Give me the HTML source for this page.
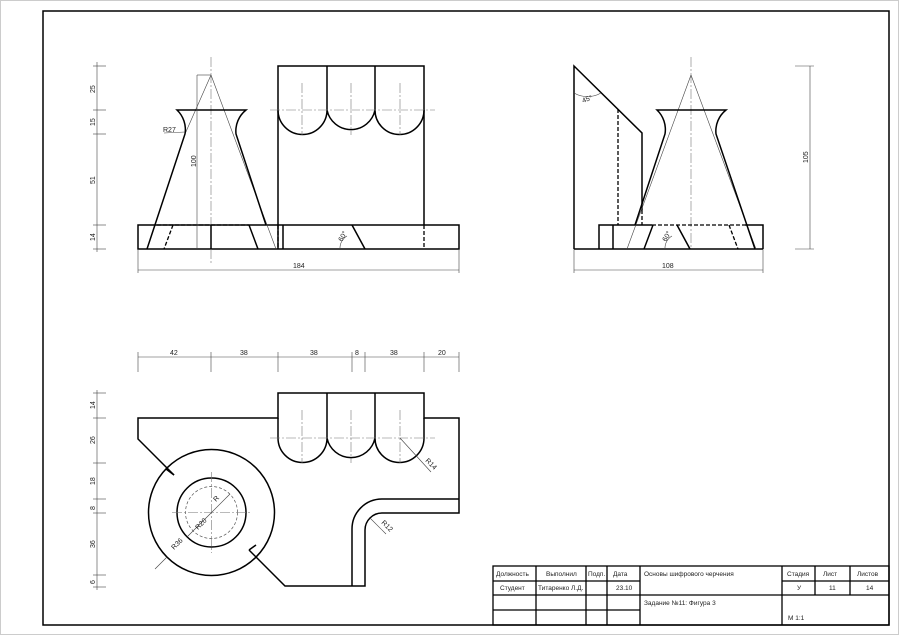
<!DOCTYPE html>
<html><head><meta charset="utf-8"><style>
html,body{margin:0;padding:0;background:#fff}
svg{display:block}
text{font-family:"Liberation Sans","DejaVu Sans",sans-serif;fill:#222}
.k{stroke:#000;stroke-width:1.5;fill:none}
.t{stroke:#444;stroke-width:0.6;fill:none}
.c{stroke:#777;stroke-width:0.6;fill:none;stroke-dasharray:10 2 2 2}
.d{stroke:#000;stroke-width:1.3;fill:none;stroke-dasharray:4 2}
.dt{stroke:#555;stroke-width:0.7;fill:none;stroke-dasharray:3 2}
</style></head><body>
<svg width="900" height="636" viewBox="0 0 900 636" xmlns="http://www.w3.org/2000/svg">
<rect x="0.5" y="0.5" width="898" height="634" fill="none" stroke="#ccc" stroke-width="1"/>
<rect x="43" y="11" width="846" height="614" fill="none" stroke="#000" stroke-width="1.5"/>

<!-- FRONT VIEW -->
<g>
<rect class="k" x="138" y="225" width="321" height="24"/>
<line class="c" x1="211" y1="57" x2="211" y2="265"/>
<line class="t" x1="211" y1="75" x2="185" y2="134"/>
<line class="t" x1="211" y1="75" x2="276" y2="249"/>
<path class="k" d="M147 249 L185 134 A27 27 0 0 0 177 110 L246 110 A27 27 0 0 0 236 134 L266 225"/>
<line class="k" x1="249" y1="225" x2="258" y2="249"/>
<line class="d" x1="157" y1="225" x2="249" y2="225"/>
<line class="d" x1="173" y1="225" x2="164" y2="249"/>
<line class="k" x1="211" y1="225" x2="211" y2="249"/>
<line class="t" x1="197" y1="75" x2="197" y2="249"/>
<line class="t" x1="197" y1="75" x2="211" y2="75"/>
<text x="0" y="0" font-size="7" transform="translate(196,167) rotate(-90)">100</text>
<line class="t" x1="164" y1="133" x2="185" y2="132"/>
<text x="163" y="132" font-size="7">R27</text>
<!-- box -->
<path class="k" d="M278 249 L278 66 L424 66 L424 225"/>
<line class="d" x1="278" y1="225" x2="278" y2="249"/>
<line class="d" x1="424" y1="225" x2="424" y2="249"/>
<line class="k" x1="283" y1="225" x2="283" y2="249"/>
<line class="k" x1="327" y1="66" x2="327" y2="110"/>
<line class="k" x1="375" y1="66" x2="375" y2="110"/>
<path class="k" d="M278 110 A24.5 24.5 0 0 0 327 110 A24.5 24.5 0 0 0 375 110 A24.5 24.5 0 0 0 424 110"/>
<line class="c" x1="270" y1="110" x2="435" y2="110"/>
<line class="c" x1="302" y1="83" x2="302" y2="135"/>
<line class="c" x1="351" y1="83" x2="351" y2="135"/>
<line class="c" x1="400" y1="83" x2="400" y2="135"/>
<line class="k" x1="352" y1="225" x2="365" y2="249"/>
<path class="t" d="M340 249 A14 14 0 0 1 347 236"/>
<text x="0" y="0" font-size="7" transform="translate(342,242) rotate(-60)">60°</text>
<!-- left dims -->
<line class="t" x1="97" y1="62" x2="97" y2="252"/>
<g class="t"><line x1="93" y1="66" x2="106" y2="66"/><line x1="93" y1="110" x2="106" y2="110"/><line x1="93" y1="134" x2="106" y2="134"/><line x1="93" y1="225" x2="106" y2="225"/><line x1="93" y1="249" x2="106" y2="249"/></g>
<g font-size="7"><text transform="translate(95,93) rotate(-90)">25</text><text transform="translate(95,126) rotate(-90)">15</text><text transform="translate(95,184) rotate(-90)">51</text><text transform="translate(95,241) rotate(-90)">14</text></g>
<line class="t" x1="138" y1="249" x2="138" y2="273"/><line class="t" x1="459" y1="249" x2="459" y2="273"/>
<line class="t" x1="138" y1="270" x2="459" y2="270"/>
<text x="293" y="268" font-size="7">184</text>
</g>

<!-- SIDE VIEW -->
<g>
<path class="k" d="M574 249 L574 66 L642 133 L642 210"/>
<line class="d" x1="642" y1="210" x2="642" y2="225"/>
<line class="d" x1="618" y1="109" x2="618" y2="225"/>
<line class="k" x1="574" y1="249" x2="763" y2="249"/>
<path class="k" d="M599 249 L599 225 L652 225"/>
<path class="k" d="M745 225 L763 225 L763 249"/>
<line class="k" x1="613" y1="225" x2="613" y2="249"/>
<line class="c" x1="691" y1="57" x2="691" y2="249"/>
<line class="t" x1="691" y1="75" x2="627" y2="249"/>
<line class="t" x1="691" y1="75" x2="756" y2="249"/>
<path class="k" d="M635 225 L665 134 A27 27 0 0 0 657 110 L726 110 A27 27 0 0 0 716 134 L755 249"/>
<line class="d" x1="652" y1="225" x2="745" y2="225"/>
<line class="k" x1="653" y1="225" x2="644" y2="249"/>
<line class="d" x1="729" y1="225" x2="738" y2="249"/>
<line class="k" x1="677" y1="225" x2="690" y2="249"/>
<path class="t" d="M665 249 A14 14 0 0 1 672 236"/>
<text font-size="7" transform="translate(666,242) rotate(-60)">60°</text>
<path class="t" d="M574 93 A27 27 0 0 0 601 93"/>
<text font-size="7" transform="translate(583,103) rotate(-20)">45°</text>
<line class="t" x1="574" y1="249" x2="574" y2="273"/><line class="t" x1="763" y1="249" x2="763" y2="273"/>
<line class="t" x1="574" y1="270" x2="763" y2="270"/>
<text x="662" y="268" font-size="7">108</text>
<line class="t" x1="810" y1="66" x2="810" y2="249"/>
<line class="t" x1="795" y1="66" x2="814" y2="66"/><line class="t" x1="795" y1="249" x2="814" y2="249"/>
<text font-size="7" transform="translate(808,163) rotate(-90)">105</text>
</g>

<!-- TOP VIEW -->
<g>
<line class="t" x1="138" y1="357" x2="459" y2="357"/>
<g class="t"><line x1="138" y1="352" x2="138" y2="372"/><line x1="211" y1="352" x2="211" y2="372"/><line x1="278" y1="352" x2="278" y2="372"/><line x1="352" y1="352" x2="352" y2="372"/><line x1="365" y1="352" x2="365" y2="372"/><line x1="424" y1="352" x2="424" y2="372"/><line x1="459" y1="352" x2="459" y2="372"/></g>
<g font-size="7"><text x="170" y="355">42</text><text x="240" y="355">38</text><text x="310" y="355">38</text><text x="355" y="355">8</text><text x="390" y="355">38</text><text x="438" y="355">20</text></g>
<line class="t" x1="97" y1="390" x2="97" y2="590"/>
<g class="t"><line x1="93" y1="393" x2="106" y2="393"/><line x1="93" y1="418" x2="106" y2="418"/><line x1="93" y1="463" x2="106" y2="463"/><line x1="93" y1="499" x2="106" y2="499"/><line x1="93" y1="513" x2="106" y2="513"/><line x1="93" y1="575" x2="106" y2="575"/><line x1="93" y1="587" x2="106" y2="587"/></g>
<g font-size="7"><text transform="translate(95,409) rotate(-90)">14</text><text transform="translate(95,444) rotate(-90)">26</text><text transform="translate(95,485) rotate(-90)">18</text><text transform="translate(95,510) rotate(-90)">8</text><text transform="translate(95,548) rotate(-90)">36</text><text transform="translate(95,584) rotate(-90)">6</text></g>
<path class="k" d="M174 475 L138 439 L138 418 L278 418 L278 393 L424 393 L424 418 L459 418 L459 513 L382 513 A17 17 0 0 0 365 530 L365 586 L285 586 L249 550"/>
<path class="k" d="M459 499 L382 499 A30 30 0 0 0 352 529 L352 586"/>
<line class="k" x1="166" y1="469" x2="174" y2="475"/>
<line class="k" x1="249" y1="550" x2="256" y2="545"/>
<circle class="k" cx="211.5" cy="512.5" r="63"/>
<circle class="k" cx="211.5" cy="512.5" r="34.5"/>
<circle class="dt" cx="211.5" cy="512.5" r="26"/>
<line class="c" x1="172" y1="512.5" x2="252" y2="512.5"/>
<line class="c" x1="211.5" y1="472" x2="211.5" y2="553"/>
<line class="t" x1="211.5" y1="512.5" x2="230" y2="494"/>
<text font-size="7" transform="translate(216,502) rotate(-45)">R</text>
<line class="t" x1="211.5" y1="512.5" x2="187" y2="537"/>
<text font-size="7" transform="translate(198,530) rotate(-45)">R20</text>
<line class="t" x1="167" y1="557" x2="155" y2="569"/>
<text font-size="7" transform="translate(174,550) rotate(-45)">R36</text>
<line class="k" x1="327" y1="393" x2="327" y2="438"/>
<line class="k" x1="375" y1="393" x2="375" y2="438"/>
<path class="k" d="M278 418 L278 438 A24.5 24.5 0 0 0 327 438 A24.5 24.5 0 0 0 375 438 A24.5 24.5 0 0 0 424 438 L424 418"/>
<line class="c" x1="270" y1="438" x2="435" y2="438"/>
<line class="c" x1="302" y1="410" x2="302" y2="463"/>
<line class="c" x1="351" y1="410" x2="351" y2="463"/>
<line class="c" x1="400" y1="410" x2="400" y2="463"/>
<line class="t" x1="400" y1="438" x2="431" y2="472"/>
<text font-size="7" transform="translate(425,461) rotate(45)">R14</text>
<line class="t" x1="370" y1="518" x2="386" y2="534"/>
<text font-size="7" transform="translate(381,523) rotate(45)">R12</text>
</g>

<!-- TITLE BLOCK -->
<g stroke="#000" stroke-width="1.3" fill="none">
<rect x="493" y="566" width="396" height="59"/>
<line x1="493" y1="581" x2="640" y2="581"/><line x1="782" y1="581" x2="889" y2="581"/>
<line x1="493" y1="595" x2="889" y2="595"/>
<line x1="493" y1="610" x2="640" y2="610"/>
<line x1="536" y1="566" x2="536" y2="625"/><line x1="586" y1="566" x2="586" y2="625"/><line x1="607" y1="566" x2="607" y2="625"/><line x1="640" y1="566" x2="640" y2="625"/><line x1="782" y1="566" x2="782" y2="625"/>
<line x1="815" y1="566" x2="815" y2="595"/><line x1="850" y1="566" x2="850" y2="595"/>
</g>
<g font-size="6.5" font-family="Liberation Sans, DejaVu Sans, sans-serif">
<text x="496" y="576">Должность</text><text x="546" y="576">Выполнил</text><text x="588" y="576">Подп.</text><text x="613" y="576">Дата</text>
<text x="644" y="576">Основы шифрового черчения</text>
<text x="787" y="576">Стадия</text><text x="823" y="576">Лист</text><text x="857" y="576">Листов</text>
<text x="500" y="590">Студент</text><text x="538" y="590">Титаренко Л.Д.</text><text x="616" y="590">23.10</text>
<text x="797" y="590">У</text><text x="829" y="590">11</text><text x="866" y="590">14</text>
<text x="644" y="605">Задание №11: Фигура 3</text>
<text x="788" y="620">М 1:1</text>
</g>
</svg>
</body></html>
